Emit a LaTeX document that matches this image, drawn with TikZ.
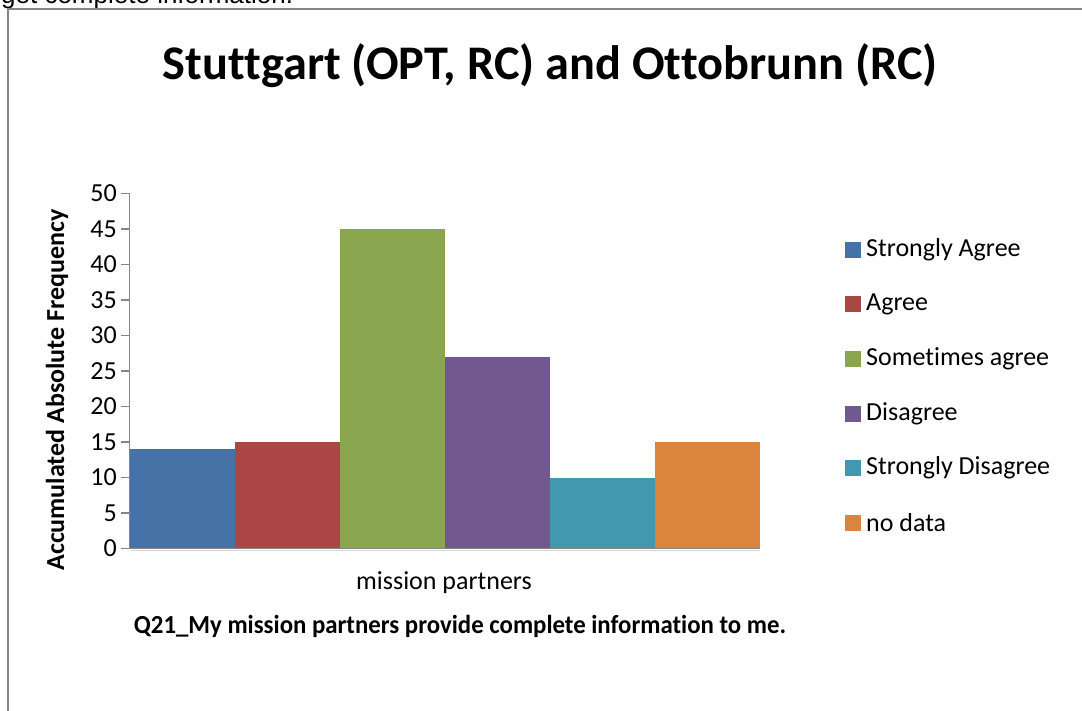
\documentclass[tikz,border=0pt]{standalone}
\usepackage{fontspec}
\setmainfont[Ligatures=NoCommon]{Carlito}
\newfontfamily\arialfont{Liberation Sans}
\definecolor{cSA}{HTML}{4572A7}
\definecolor{cA}{HTML}{AA4643}
\definecolor{cSo}{HTML}{89A54E}
\definecolor{cD}{HTML}{71588F}
\definecolor{cSD}{HTML}{4198AF}
\definecolor{cND}{HTML}{DB843D}
\definecolor{axisgray}{HTML}{868686}
\begin{document}
\begin{tikzpicture}[x=1pt,y=-1pt,
  lbl/.style={font=\fontsize{26}{31}\selectfont, inner sep=0pt},
  blbl/.style={font=\bfseries\fontsize{26}{31}\selectfont, inner sep=0pt},
  axisline/.style={draw=axisgray, line width=1.5pt},
  legsq/.style={minimum size=16pt, inner sep=0pt}]
\useasboundingbox (0,0) rectangle (1082,711);
\fill[white] (0,0) rectangle (1082,711);
% cut-off text above the frame
\node[anchor=base west, inner sep=0pt, font=\arialfont\fontsize{26}{30}\selectfont] (toptext) at (1,4) {get complete information.};
% frame
\draw[axisgray, line width=2pt] (8,711) -- (8,9) -- (1082,9);
% title
\node[anchor=base, inner sep=0pt, font=\bfseries\fontsize{48.3}{58}\selectfont] (title) at (550,80) {Stuttgart (OPT, RC) and Ottobrunn (RC)};
% bars
\def\base{548.5}
\def\sc{7.1}
\fill[cSA] (130,\base) rectangle (235,{\base-\sc*14});
\fill[cA]  (235,\base) rectangle (340,{\base-\sc*15});
\fill[cSo] (340,\base) rectangle (445,{\base-\sc*45});
\fill[cD]  (445,\base) rectangle (550,{\base-\sc*27});
\fill[cSD] (550,\base) rectangle (655,{\base-\sc*10});
\fill[cND] (655,\base) rectangle (760,{\base-\sc*15});
% axes
\draw[axisline] (129.5,{\base-\sc*50}) -- (129.5,\base);
\draw[axisline] (121,\base) -- (760,\base);
\draw[black!15, line width=1pt] (129.5,\base+1.5) -- (760,\base+1.5);
\foreach \v in {0,5,...,50}{
  \draw[axisline] (121,{\base-\sc*\v}) -- (129.5,{\base-\sc*\v});
  \node[lbl, anchor=east] (t\v) at (117,{\base-\sc*\v}) {\v};
}
% axis titles
\node[blbl, rotate=90] (ytitle) at (57,390) {Accumulated Absolute Frequency};
\node[lbl] (xcat) at (444,583) {mission partners};
\node[blbl] (xtitle) at (460,626) {\scalebox{0.955}[1]{Q21\_My mission partners provide complete information to me.}};
% legend
\foreach \c/\t/\y [count=\i] in {cSA/Strongly Agree/250, cA/Agree/304.5, cSo/Sometimes agree/359, cD/Disagree/413.5, cSD/Strongly Disagree/468, cND/no data/522.5}{
  \node[legsq, fill=\c] (lsq\i) at (853,\y) {};
  \node[lbl, anchor=west] (ltx\i) at (866,\y) {\t};
}
\end{tikzpicture}
\end{document}
